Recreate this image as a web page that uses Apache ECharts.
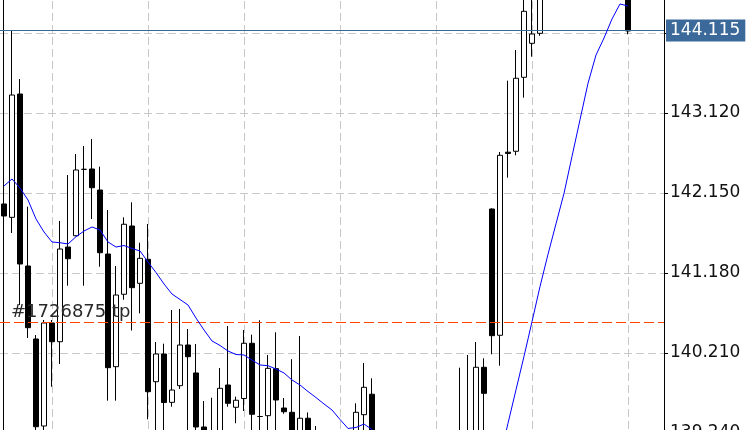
<!DOCTYPE html>
<html><head><meta charset="utf-8">
<script src="https://cdn.jsdelivr.net/npm/echarts@6/dist/echarts.min.js"></script>
<style>html,body{margin:0;padding:0;background:#fff}#c{width:750px;height:430px}</style>
</head><body><div id="c"></div>
<script>
// candle values [k = 0..78], prices
const opens  = [142.017,141.855,143.350,141.265,140.380,139.325,140.574,140.347,141.495,141.632,
                142.437,142.441,142.186,141.410,140.044,140.922,141.750,141.055,141.346,139.862,
                140.198,139.612,139.814,140.307,139.968,139.313,139.190,139.095,139.822,139.552,
                139.658,140.328,139.440,139.450,140.020,139.543,139.491,139.095,139.419,139.200,
                139.050,138.950,138.850,138.900,139.155,139.462,139.710,139.150,138.950,138.700,
                138.450,138.300,138.100,138.150,138.050,138.250,138.400,138.600,139.100,139.150,
                140.037,141.956,140.425,142.645,142.656,143.553,143.965,144.086,144.670,144.850,
                144.800,144.950,144.900,145.050,144.980,144.880,144.800,144.720,144.650];
const closes = [141.871,143.338,141.289,140.517,139.316,140.574,140.347,141.471,141.353,142.429,
                142.437,142.214,141.426,140.032,140.913,141.771,141.002,141.358,139.741,140.198,
                139.610,139.761,140.307,140.165,139.313,139.095,139.020,139.782,139.600,139.637,
                140.328,139.467,139.440,140.024,139.640,139.498,139.095,139.419,139.095,139.000,
                138.950,138.850,138.900,139.050,139.491,139.794,139.095,138.950,138.700,138.450,
                138.300,138.100,138.150,138.050,138.250,138.400,138.600,139.100,139.200,140.037,
                139.721,140.420,142.607,142.630,143.541,144.353,144.078,144.672,144.850,144.800,
                144.950,144.900,145.050,144.980,144.880,144.800,144.720,144.650,144.115];
const lows   = [138.791,141.665,140.792,140.392,139.155,139.252,139.801,140.077,141.026,141.625,
                141.026,141.835,141.256,139.632,139.632,140.856,140.483,140.691,139.406,139.155,
                139.216,139.559,139.774,139.216,139.034,138.973,138.950,139.034,139.559,139.358,
                139.507,139.179,139.155,139.179,139.155,139.473,138.973,139.034,138.973,138.900,
                138.800,138.750,138.700,138.800,139.034,139.179,138.973,138.850,138.600,138.350,
                138.150,137.950,137.900,137.850,137.950,138.100,138.300,138.500,138.900,139.000,
                139.155,140.194,140.056,142.336,142.607,143.306,143.803,144.057,144.550,144.620,
                144.700,144.750,144.800,144.850,144.700,144.650,144.580,144.550,144.074];
const highs  = [144.975,144.126,143.532,141.984,140.428,140.610,140.610,141.811,142.368,142.623,
                142.720,142.805,142.469,141.944,141.265,141.855,142.037,141.547,141.774,140.343,
                140.323,140.731,140.744,140.501,140.319,139.628,139.668,140.028,140.537,139.680,
                140.489,140.432,140.607,140.186,140.461,139.664,140.135,140.416,139.489,139.325,
                139.200,139.150,139.100,139.200,139.600,140.089,139.903,139.250,139.050,138.800,
                138.550,138.400,138.300,138.250,138.350,138.550,138.750,140.032,140.186,140.343,
                140.146,141.964,142.647,143.512,143.884,144.733,144.611,144.854,144.950,145.000,
                145.100,145.050,145.200,145.150,145.050,144.950,144.900,144.850,144.750];
// moving average line
const maValues = [142.235,142.320,142.211,142.065,141.835,141.677,141.556,141.547,141.532,141.620,
                  141.689,141.738,141.701,141.556,141.495,141.513,141.477,141.447,141.313,141.186,
                  141.047,140.925,140.859,140.792,140.634,140.489,140.356,140.301,140.234,140.192,
                  140.186,140.125,140.065,140.056,140.016,139.968,139.883,139.822,139.743,139.670,
                  139.592,139.519,139.404,139.295,139.307,139.349,139.282,139.179,139.058,138.937,
                  138.816,138.694,138.573,138.476,138.403,138.355,138.331,138.306,138.282,138.282,
                  138.331,138.549,138.937,139.358,139.764,140.170,140.590,141.016,141.407,141.777,
                  142.146,142.593,143.039,143.480,143.823,144.029,144.260,144.442,144.417];
const slotCount = 83;                 // visible bar slots (including empty right margin)
const categories = Array.from({length: slotCount}, (_, i) => String(i + 1));
const yTicks = [139.240, 140.210, 141.180, 142.150, 143.120, 144.090];
const currentPrice = 144.115;
const tpPrice = 140.582;
const tpLabel = '#1726875 tp';

const candleData = opens.map((o, i) => [o, closes[i], lows[i], highs[i]]);
const FONT = 'DejaVu Sans';

const chart = echarts.init(document.getElementById('c'), null, {renderer: 'canvas'});
chart.setOption({
  animation: false,
  backgroundColor: '#ffffff',
  grid: {left: 0, right: 86, top: -47, bottom: -3, containLabel: false, outerBoundsMode: 'none'},
  xAxis: {
    type: 'category', data: categories, boundaryGap: true,
    axisLine: {show: false}, axisTick: {show: false}, axisLabel: {show: false},
    splitLine: {show: true, alignWithLabel: true, interval: (i) => i % 12 === 6,
      lineStyle: {color: '#c8c8c8', width: 1, type: [8, 4]}}
  },
  yAxis: {
    type: 'value', position: 'right', scale: true,
    min: yTicks[0], max: 145.06, interval: 0.97,
    axisLine: {show: true, lineStyle: {color: '#000', width: 1}},
    axisTick: {show: true, inside: false, length: 4, lineStyle: {color: '#000'}},
    axisLabel: {show: true, margin: 6, color: '#111', fontSize: 17, fontFamily: FONT,
      showMinLabel: true, formatter: (v) => (v > 144 ? '' : v.toFixed(3))},
    splitLine: {show: true, lineStyle: {color: '#c8c8c8', width: 1, type: [8, 4]}}
  },
  series: [
    {
      type: 'candlestick', data: candleData, barWidth: 5,
      itemStyle: {color: '#ffffff', color0: '#000000', borderColor: '#000000', borderColor0: '#000000',
        borderColorDoji: '#000000', borderWidth: 1},
      markLine: {
        silent: true, symbol: ['none', 'none'], animation: false,
        data: [
          {yAxis: currentPrice,
            lineStyle: {color: '#3b6a9a', width: 1, type: 'solid'},
            label: {show: true, position: 'end', distance: 2, formatter: currentPrice.toFixed(3),
              color: '#ffffff', backgroundColor: '#3b6a9a', fontSize: 17, fontFamily: FONT,
              padding: [2, 5, 2, 4], lineHeight: 18}},
          {yAxis: tpPrice,
            lineStyle: {color: '#ff4500', width: 1, type: [10, 4]},
            label: {show: true, position: 'insideStartTop', distance: [11, 1], formatter: tpLabel,
              color: '#2a2a2a', fontSize: 18, fontFamily: FONT}}
        ]
      }
    },
    {
      type: 'line', data: maValues, symbol: 'none', smooth: false, z: 5,
      lineStyle: {color: '#0000ff', width: 1}
    }
  ]
});
</script></body></html>
